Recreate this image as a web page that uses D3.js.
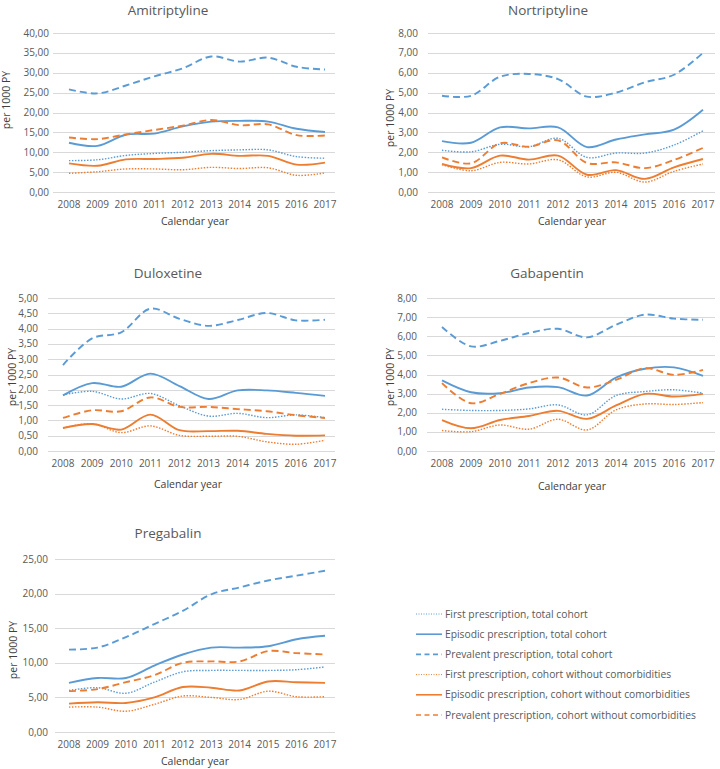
<!DOCTYPE html>
<html>
<head>
<meta charset="utf-8">
<script src="https://cdn.jsdelivr.net/npm/d3@7"></script>
<style>
  body { margin: 0; background: #fff; }
  svg { display: block; font-family: 'Open Sans', sans-serif; }
  .tick-label { fill: #595959; font-size: 10px; }
  .panel-title { fill: #595959; font-size: 13.5px; }
  .axis-label { fill: #404040; font-size: 10.5px; }
  .legend-label { fill: #595959; font-size: 10.3px; }
</style>
</head>
<body>
<svg id="chart" width="720" height="769"></svg>
<script>
const years = ['2008', '2009', '2010', '2011', '2012', '2013', '2014', '2015', '2016', '2017'];

const seriesLabels = [
  'First prescription, total cohort',
  'Episodic prescription, total cohort',
  'Prevalent prescription, total cohort',
  'First prescription, cohort without comorbidities',
  'Episodic prescription, cohort without comorbidities',
  'Prevalent prescription, cohort without comorbidities'
];

// order follows seriesLabels
const amitriptyline = [
  [7.9, 8.1, 9.2, 9.7, 10.0, 10.4, 10.6, 10.6, 8.9, 8.5],
  [12.4, 11.6, 14.4, 14.7, 16.5, 17.7, 17.9, 17.7, 15.9, 15.1],
  [25.8, 24.8, 26.8, 29.1, 31.1, 34.1, 32.8, 33.8, 31.5, 30.8],
  [4.7, 5.1, 5.8, 5.8, 5.6, 6.2, 5.9, 6.1, 4.2, 4.8],
  [7.2, 6.6, 8.2, 8.3, 8.6, 9.6, 9.1, 9.1, 6.9, 7.4],
  [13.7, 13.3, 14.5, 15.6, 16.7, 18.1, 16.8, 17.0, 14.3, 14.2]
];

const nortriptyline = [
  [2.10, 2.02, 2.40, 2.28, 2.70, 1.74, 1.96, 1.96, 2.36, 3.08],
  [2.56, 2.48, 3.25, 3.20, 3.25, 2.26, 2.64, 2.90, 3.14, 4.14],
  [4.84, 4.84, 5.80, 5.94, 5.68, 4.80, 5.00, 5.52, 5.90, 7.00],
  [1.38, 1.07, 1.49, 1.41, 1.62, 0.76, 0.99, 0.50, 1.04, 1.41],
  [1.41, 1.20, 1.83, 1.63, 1.83, 0.87, 1.10, 0.66, 1.24, 1.66],
  [1.74, 1.44, 2.45, 2.28, 2.60, 1.46, 1.49, 1.20, 1.61, 2.22]
];

const duloxetine = [
  [1.83, 1.95, 1.70, 1.88, 1.48, 1.14, 1.23, 1.09, 1.18, 1.09],
  [1.82, 2.22, 2.10, 2.53, 2.12, 1.70, 1.98, 1.98, 1.90, 1.80],
  [2.81, 3.68, 3.88, 4.65, 4.32, 4.09, 4.28, 4.51, 4.27, 4.29],
  [0.75, 0.89, 0.60, 0.82, 0.51, 0.48, 0.48, 0.30, 0.22, 0.35],
  [0.75, 0.88, 0.70, 1.19, 0.68, 0.65, 0.66, 0.56, 0.50, 0.51],
  [1.08, 1.33, 1.30, 1.75, 1.44, 1.44, 1.37, 1.30, 1.17, 1.08]
];

const gabapentin = [
  [2.18, 2.12, 2.12, 2.20, 2.41, 1.89, 2.90, 3.11, 3.20, 3.02],
  [3.69, 3.07, 3.02, 3.32, 3.34, 2.90, 3.84, 4.30, 4.37, 3.93],
  [6.48, 5.47, 5.76, 6.17, 6.39, 5.94, 6.60, 7.13, 6.92, 6.86],
  [1.07, 1.01, 1.36, 1.14, 1.66, 1.10, 2.15, 2.46, 2.43, 2.53],
  [1.62, 1.19, 1.62, 1.83, 2.10, 1.68, 2.38, 2.99, 2.85, 2.99],
  [3.55, 2.50, 2.99, 3.55, 3.84, 3.32, 3.72, 4.33, 3.98, 4.24]
];

const pregabalin = [
  [6.0, 6.4, 5.6, 7.2, 8.7, 8.9, 8.9, 8.9, 9.0, 9.4],
  [7.1, 7.8, 7.8, 9.6, 11.2, 12.2, 12.2, 12.4, 13.4, 13.9],
  [11.9, 12.2, 13.7, 15.6, 17.5, 19.9, 20.9, 21.9, 22.6, 23.3],
  [3.6, 3.6, 3.0, 4.0, 5.2, 5.0, 4.7, 5.9, 5.1, 5.1],
  [4.1, 4.3, 4.2, 5.0, 6.5, 6.4, 6.0, 7.3, 7.2, 7.1],
  [5.9, 6.2, 7.2, 8.2, 10.0, 10.2, 10.2, 11.7, 11.4, 11.2]
];

const drugNames = ['Amitriptyline', 'Nortriptyline', 'Duloxetine', 'Gabapentin', 'Pregabalin'];
const drugSeries = [amitriptyline, nortriptyline, duloxetine, gabapentin, pregabalin];
const yMaxima = [40, 8, 5, 8, 25];
const yTickSteps = [5, 1, 0.5, 1, 5];

const colors = { total: '#5b9bd5', noComorb: '#ed7d31' };
const seriesStyles = [
  { color: colors.total, dash: '1.5,1.5', width: 1.4 },
  { color: colors.total, dash: null, width: 1.9 },
  { color: colors.total, dash: '7,4', width: 1.9 },
  { color: colors.noComorb, dash: '1.5,1.5', width: 1.4 },
  { color: colors.noComorb, dash: null, width: 1.9 },
  { color: colors.noComorb, dash: '7,4', width: 1.9 }
];

// panel frames in page pixels
const panels = [
  { gridL: 53, gridR: 335, x0: 69, x1: 325, top: 33, bottom: 192, titleX: 168, titleY: 15, labelX: 49, yTitleX: 6, yTitleY: 100, xTitleX: 195, xTitleY: 225 },
  { gridL: 428, gridR: 715, x0: 442, x1: 703, top: 33, bottom: 192, titleX: 548, titleY: 15, labelX: 418, yTitleX: 390, yTitleY: 118, xTitleX: 572, xTitleY: 225 },
  { gridL: 48, gridR: 335, x0: 63, x1: 325, top: 298, bottom: 451, titleX: 168, titleY: 278, labelX: 38, yTitleX: 12, yTitleY: 377, xTitleX: 188, xTitleY: 488 },
  { gridL: 427, gridR: 715, x0: 442, x1: 703, top: 298, bottom: 451, titleX: 547, titleY: 278, labelX: 417, yTitleX: 390, yTitleY: 377, xTitleX: 572, xTitleY: 490 },
  { gridL: 55, gridR: 335, x0: 69, x1: 325, top: 559, bottom: 732, titleX: 168, titleY: 538, labelX: 48, yTitleX: 13, yTitleY: 650, xTitleX: 195, xTitleY: 765 }
];

const formatTick = (value) => d3.format('.2f')(value).replace('.', ',');

const svg = d3.select('#chart');

drugNames.forEach((name, index) => {
  const frame = panels[index];
  const series = drugSeries[index];

  const xScale = d3.scalePoint().domain(years).range([frame.x0, frame.x1]);
  const yScale = d3.scaleLinear().domain([0, yMaxima[index]]).range([frame.bottom, frame.top]);
  const ticks = d3.range(0, yMaxima[index] + yTickSteps[index] / 2, yTickSteps[index]);

  const g = svg.append('g').attr('class', 'panel');

  g.selectAll('.grid')
    .data(ticks)
    .join('line')
    .attr('x1', frame.gridL)
    .attr('x2', frame.gridR)
    .attr('y1', (tick) => Math.round(yScale(tick)) + 0.5)
    .attr('y2', (tick) => Math.round(yScale(tick)) + 0.5)
    .attr('stroke', '#d9d9d9')
    .attr('stroke-width', 1);

  g.selectAll('.y-label')
    .data(ticks)
    .join('text')
    .attr('class', 'tick-label')
    .attr('x', frame.labelX)
    .attr('y', (tick) => yScale(tick))
    .attr('dy', '0.35em')
    .attr('text-anchor', 'end')
    .text(formatTick);

  g.selectAll('.x-label')
    .data(years)
    .join('text')
    .attr('class', 'tick-label')
    .attr('x', (year) => xScale(year))
    .attr('y', frame.bottom + 16)
    .attr('text-anchor', 'middle')
    .text((year) => year);

  g.append('text')
    .attr('class', 'panel-title')
    .attr('x', frame.titleX)
    .attr('y', frame.titleY)
    .attr('text-anchor', 'middle')
    .text(name);

  g.append('text')
    .attr('class', 'axis-label')
    .attr('transform', `translate(${frame.yTitleX},${frame.yTitleY}) rotate(-90)`)
    .attr('dy', '0.35em')
    .attr('text-anchor', 'middle')
    .text('per 1000 PY');

  g.append('text')
    .attr('class', 'axis-label')
    .attr('x', frame.xTitleX)
    .attr('y', frame.xTitleY)
    .attr('text-anchor', 'middle')
    .text('Calendar year');

  const line = d3
    .line()
    .x((value, i) => xScale(years[i]))
    .y((value) => yScale(value))
    .curve(d3.curveCatmullRom.alpha(0.5));

  g.selectAll('.series')
    .data(series)
    .join('path')
    .attr('d', (values) => line(values))
    .attr('fill', 'none')
    .attr('stroke', (values, i) => seriesStyles[i].color)
    .attr('stroke-width', (values, i) => seriesStyles[i].width)
    .attr('stroke-dasharray', (values, i) => seriesStyles[i].dash);
});

const legend = svg.append('g').attr('class', 'legend').attr('transform', 'translate(416,614)');

seriesLabels.forEach((label, index) => {
  const style = seriesStyles[index];
  const row = legend.append('g').attr('transform', `translate(0,${index * 20.2})`);
  row
    .append('line')
    .attr('x1', 0)
    .attr('x2', 26)
    .attr('y1', 0)
    .attr('y2', 0)
    .attr('stroke', style.color)
    .attr('stroke-width', style.dash === '1.5,1.5' ? 1 : 1.6)
    .attr('stroke-dasharray', style.dash === '1.5,1.5' ? '1,1.5' : style.dash === null ? null : '5,3.5');
  row
    .append('text')
    .attr('class', 'legend-label')
    .attr('x', 29)
    .attr('y', 0)
    .attr('dy', '0.35em')
    .text(label);
});
</script>
</body>
</html>
